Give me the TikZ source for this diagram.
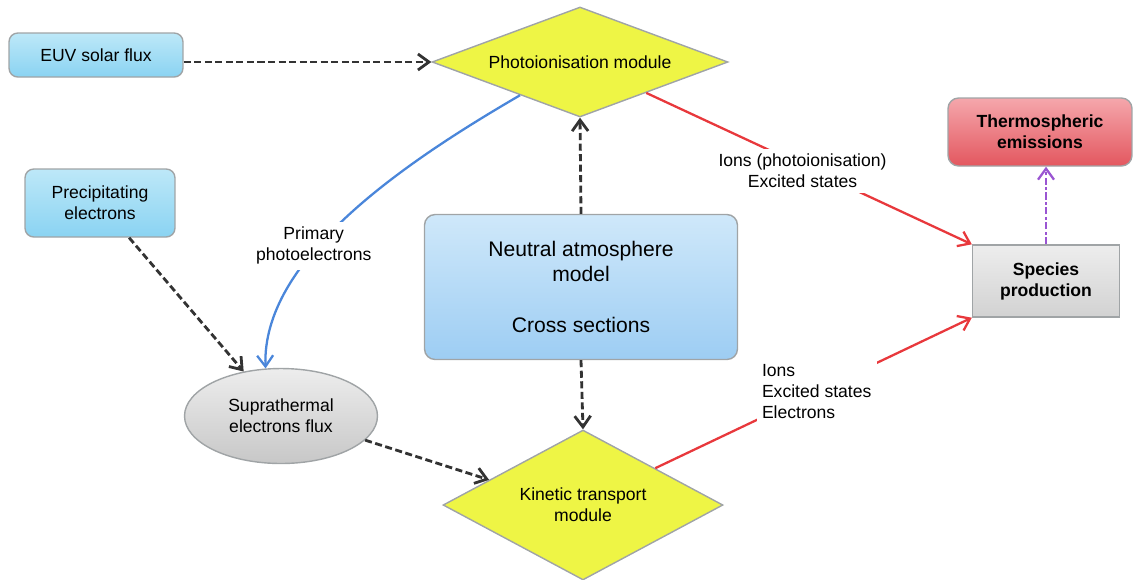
\documentclass[tikz,border=0pt]{standalone}
\usepackage{xcolor}
\usepackage{fontspec}
\setmainfont{Liberation Sans}
\usepackage{tikz}
\usetikzlibrary{arrows.meta,shapes.geometric}
\definecolor{boxblue}{HTML}{8AD3F2}
\definecolor{boxbluetop}{HTML}{BDE8F8}
\definecolor{neutblue}{HTML}{9DCDF3}
\definecolor{neutbluetop}{HTML}{CFE8FA}
\definecolor{modyellow}{HTML}{EEF545}
\definecolor{emisred}{HTML}{E3575F}
\definecolor{emisredtop}{HTML}{F5A7AC}
\definecolor{prodgray}{HTML}{D2D2D2}
\definecolor{prodgraytop}{HTML}{EDEDED}
\definecolor{edgegray}{HTML}{A0A4A6}
\definecolor{arrred}{HTML}{E8383C}
\definecolor{arrblue}{HTML}{4A86DA}
\definecolor{arrpurple}{HTML}{9A55D2}
\tikzset{basic/.style={draw=edgegray,line width=0.8pt,
                       align=center,font=\fontsize{10}{12}\selectfont}}
\tikzset{source/.style={basic,rectangle,rounded corners=5pt,
                        top color=boxbluetop,bottom color=boxblue}}

\begin{document}
\begin{tikzpicture}[x=0.02cm,y=-0.02cm,
      % styles for clarity
      module/.style  ={basic, diamond, inner sep=0pt, fill=modyellow},
      model/.style   ={basic, rectangle, rounded corners=6pt,
                       top color=neutbluetop, bottom color=neutblue,
                       font=\fontsize{12}{14.5}\selectfont},
      result/.style  ={basic, rectangle, rounded corners=6pt,
                       top color=emisredtop, bottom color=emisred,
                       font=\fontsize{10}{12}\selectfont\bfseries},
      product/.style ={basic, rectangle,
                       top color=prodgraytop, bottom color=prodgray,
                       font=\fontsize{10}{12}\selectfont\bfseries},
      fluxnode/.style={basic, ellipse, inner sep=0pt,
                       top color=prodgraytop, bottom color=prodgray!95!black},
      flow/.style    ={->, dashed, line width=1.6pt, black!80,
                       dash pattern=on 4pt off 2pt},
      chem/.style    ={->, line width=1.3pt, arrred},
      lbl/.style     ={fill=white, align=center, text=black,
                       font=\fontsize{10}{12}\selectfont, inner sep=3pt},
      >={Straight Barb[length=2.2mm,width=3.2mm]}
    ]
    \useasboundingbox (0,0) rectangle (1135,579);

    % inputs
    \node[source, minimum width=3.48cm, minimum height=0.88cm] (euv) at (96,55) {EUV solar flux};
    \node[source, minimum width=3.0cm, minimum height=1.36cm] (precip) at (100,203) {Precipitating\\electrons};

    % modules and atmosphere
    \node[module, shape aspect=2.69, minimum width=5.92cm, minimum height=2.2cm] (photo) at (580,62)
      {Photoionisation module};
    \node[model, minimum width=6.26cm, minimum height=2.9cm] (neutral) at (581,287)
      {Neutral atmosphere\\model\\[14.5pt]Cross sections};
    \node[module, shape aspect=1.87, minimum width=5.6cm, minimum height=3.0cm] (kinetic) at (583,505)
      {Kinetic transport\\module};
    \node[fluxnode, minimum width=3.86cm, minimum height=1.9cm] (supra) at (281,416) {Suprathermal\\electrons flux};

    % outputs
    \node[product, minimum width=2.94cm, minimum height=1.44cm] (species) at (1046,281) {Species\\production};
    \node[result, minimum width=3.68cm, minimum height=1.36cm] (thermo) at (1040,132) {Thermospheric\\emissions};

    % black dashed links
    \draw[flow] (euv.east |- photo.west) -- (photo.west);
    \draw[flow] (neutral.north) -- (photo.south);
    \draw[flow] (neutral.south) -- (kinetic.north);
    \draw[flow] (precip.-50) -- (supra.130);
    \draw[flow] (supra.-16) -- (kinetic.165);

    % photoelectrons from the photoionisation module
    \draw[->, line width=1.3pt, arrblue]
      (photo.209) .. controls (400,165) and (262,260) ..
      node[pos=.6, lbl, xshift=-3pt] {Primary\\photoelectrons} (supra.108);

    % production of species
    \draw[chem] (photo.-25) -- node[pos=.48, lbl, yshift=-3pt]
      {Ions (photoionisation)\\Excited states} (species.north west);
    \draw[chem] (kinetic.27) -- node[pos=.51, lbl, align=left]
      {Ions\\Excited states\\Electrons} (species.south west);
    \draw[->, line width=1.3pt, arrpurple, dash pattern=on 4pt off 1.5pt on 1.5pt off 1.5pt]
      (species.north) -- (species.north |- thermo.south);
  \end{tikzpicture}
\end{document}
